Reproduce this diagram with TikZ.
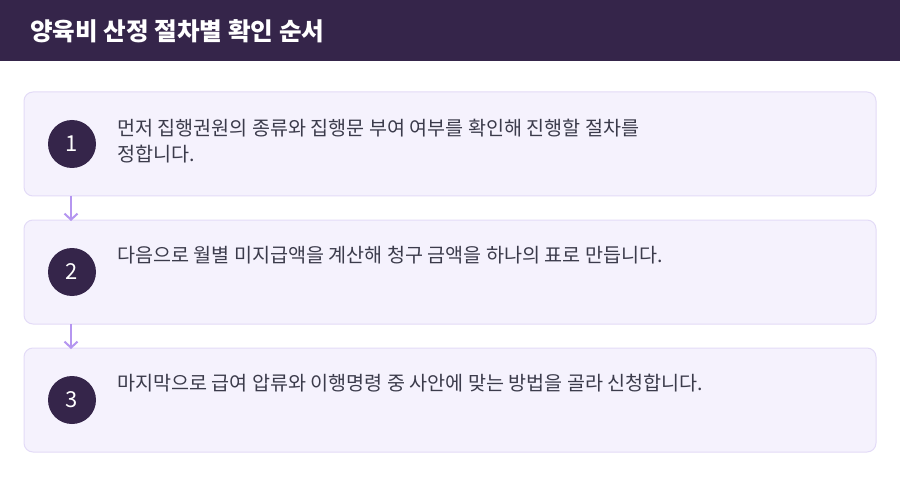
\documentclass[tikz,border=0pt]{standalone}
\usepackage{fontspec}
\setmainfont{Noto Sans CJK KR}
\usetikzlibrary{arrows.meta}
\definecolor{hdr}{HTML}{35254A}
\definecolor{boxfill}{HTML}{F5F2FD}
\definecolor{boxline}{HTML}{E3DBF7}
\definecolor{arrowc}{HTML}{B596F0}
\definecolor{txt}{HTML}{3B3B4B}
\tikzset{
  stepbox/.style={draw=boxline, fill=boxfill, line width=1pt, rounded corners=9pt},
  numcirc/.style={circle, fill=hdr, minimum size=48pt, inner sep=0pt, text=white, font=\fontsize{22pt}{22pt}\selectfont},
  steptext/.style={anchor=base west, inner sep=0pt, text=txt, align=left, font=\fontsize{19.6pt}{26pt}\selectfont},
  flow/.style={draw=arrowc, line width=2pt, -{Straight Barb[length=6pt,width=13pt,line width=2pt]}}
}
\begin{document}
\begin{tikzpicture}[x=1pt,y=-1pt]
\useasboundingbox (0,0) rectangle (900,484);
\fill[white] (0,0) rectangle (900,484);
\fill[hdr] (0,0) rectangle (900,61);
\node[anchor=base west, inner sep=0pt, text=white, font=\fontsize{24.6pt}{28pt}\selectfont\bfseries] (title) at (30,40.5) {양육비 산정 절차별 확인 순서};

\draw[stepbox] (24,92) rectangle (876,196);
\coordinate (b1top) at (71,196);
\draw[stepbox] (24,220) rectangle (876,324);
\coordinate (b2top) at (71,220);
\coordinate (b2bot) at (71,324);
\draw[stepbox] (24,348) rectangle (876,452);
\coordinate (b3top) at (71,348);

\node[numcirc] (c1) at (72,144) {1};
\node[numcirc] (c2) at (72,272) {2};
\node[numcirc] (c3) at (72,400) {3};

\node[steptext] (t1) at (117,161) {먼저 집행권원의 종류와 집행문 부여 여부를 확인해 진행할 절차를\\정합니다.};
\node[steptext] (t2) at (117,262.5) {다음으로 월별 미지급액을 계산해 청구 금액을 하나의 표로 만듭니다.};
\node[steptext] (t3) at (117,390.5) {마지막으로 급여 압류와 이행명령 중 사안에 맞는 방법을 골라 신청합니다.};

\draw[flow] (b1top) -- ([yshift=-1pt]b2top);
\draw[flow] (b2bot) -- ([yshift=-1pt]b3top);
\end{tikzpicture}
\end{document}
